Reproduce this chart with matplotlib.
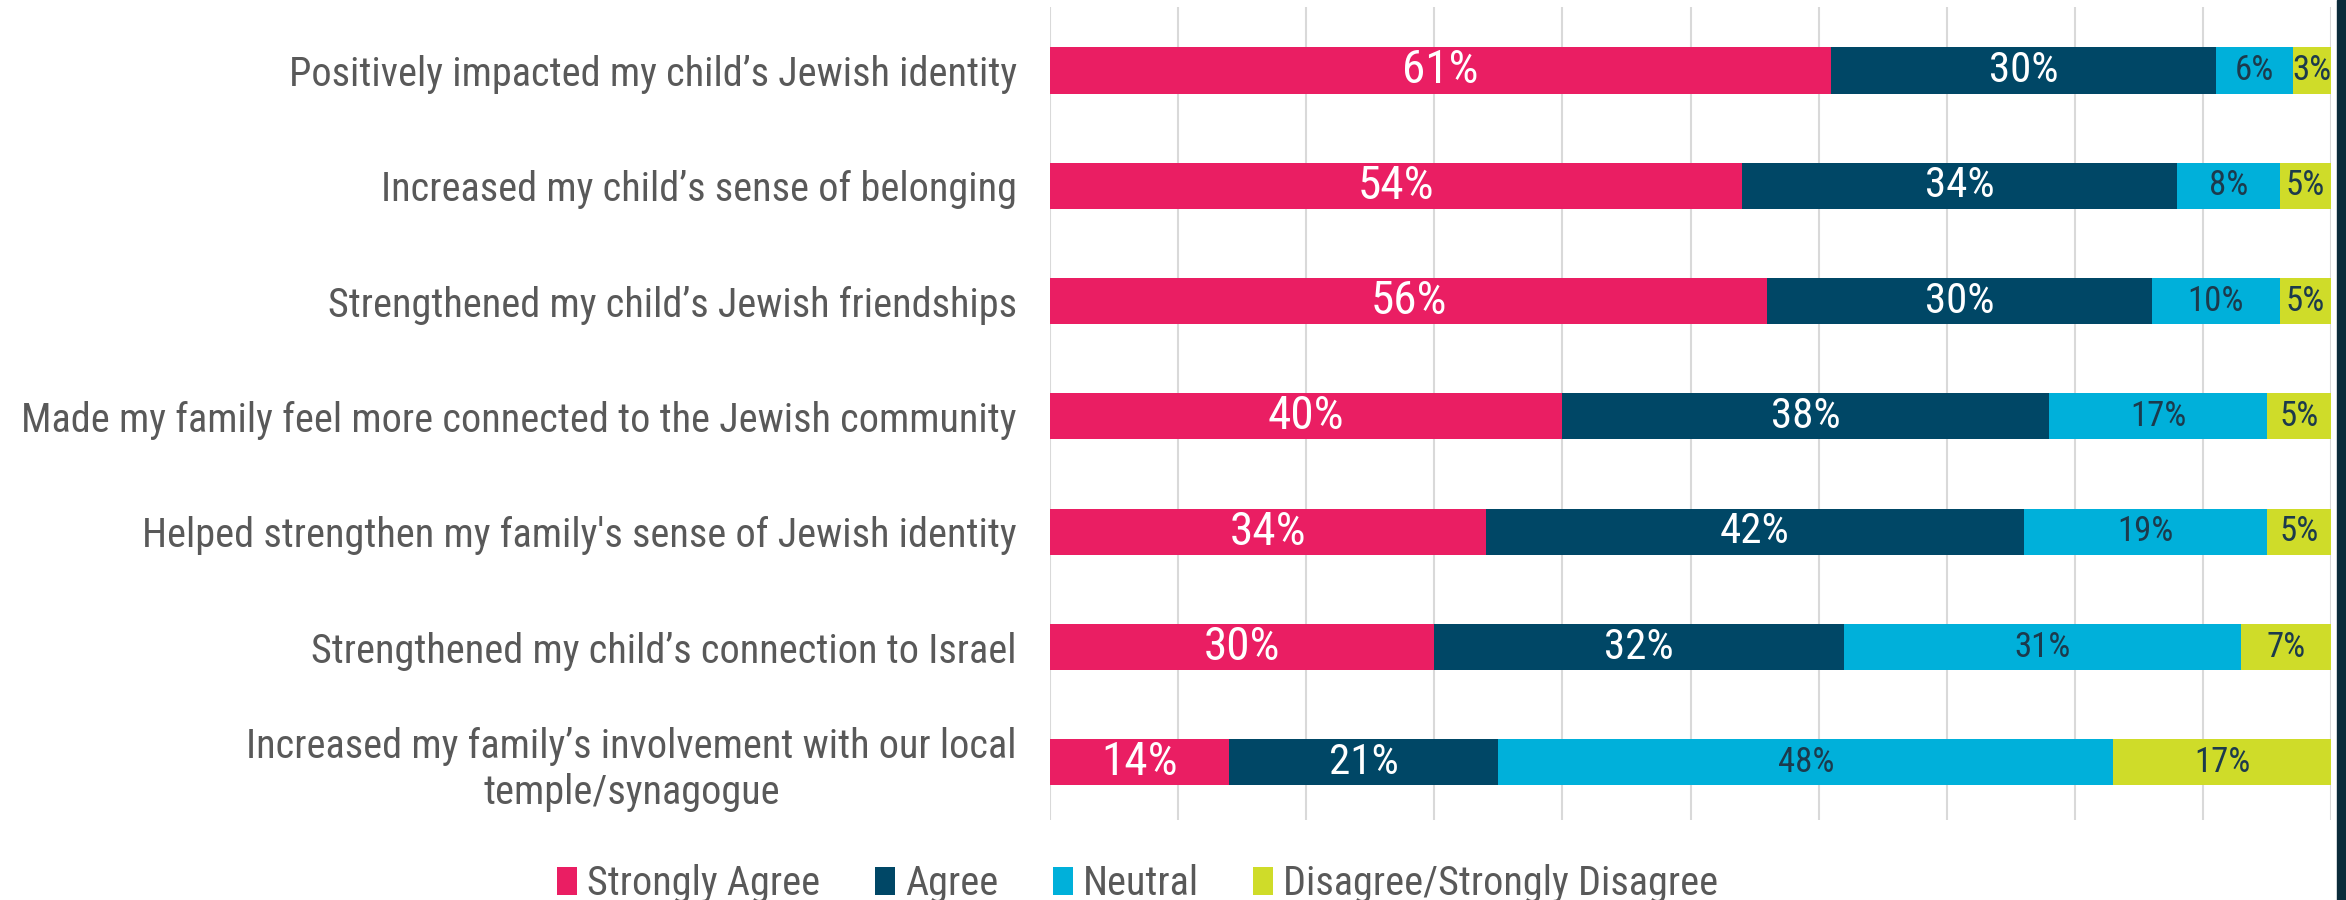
# -*- coding: utf-8 -*-
# --- plot.py : stacked agreement bars ----------------------------------------
import matplotlib
matplotlib.use('Agg')
import matplotlib.pyplot as plt
import matplotlib.patches as mpatches
from matplotlib import font_manager

# --- Data --------------------------------------------------------------------
lCat = ['Positively impacted my child\u2019s Jewish identity',
        'Increased my child\u2019s sense of belonging',
        'Strengthened my child\u2019s Jewish friendships',
        'Made my family feel more connected to the Jewish community',
        'Helped strengthen my family\'s sense of Jewish identity',
        'Strengthened my child\u2019s connection to Israel',
        'Increased my family\u2019s involvement with our local\n'
        'temple/synagogue']
lSer = ['Strongly Agree', 'Agree', 'Neutral', 'Disagree/Strongly Disagree']
strongAgree = [61, 54, 56, 40, 34, 30, 14]
agree = [30, 34, 30, 38, 42, 32, 21]
neutral = [6, 8, 10, 17, 19, 31, 48]
disagree = [3, 5, 5, 5, 5, 7, 17]

# --- Styles ------------------------------------------------------------------
lCol = ['#EA1E63', '#004766', '#00B0DA', '#CFDC29']
lColTxt = ['white', 'white', '#1C3A4C', '#1C3A4C']
lSzTxt = [34, 31, 25, 25]
sNames = set(f.name for f in font_manager.fontManager.ttflist)
lFam = [s for s in ['Liberation Sans Narrow', 'Roboto Condensed',
                    'Liberation Sans'] if s in sNames] + ['DejaVu Sans']
colLbl = '#595959'
plt.rcParams['font.family'] = lFam

# --- Plot --------------------------------------------------------------------
cFig = plt.figure(figsize=(23.46, 9), dpi=100)
cAx = cFig.add_axes([0.4476, 0.0889, 0.546, 0.9033])

lY = list(range(len(lCat)))
lLeft = [0] * len(lCat)
for iS, cSer in enumerate([strongAgree, agree, neutral, disagree]):
    cAx.barh(lY, cSer, left=lLeft, height=0.4, color=lCol[iS],
             label=lSer[iS], zorder=2)
    for iC, cV in enumerate(cSer):
        xMid = lLeft[iC] + cV / 2
        if lLeft[iC] + cV > 100:
            xMid = (lLeft[iC] + 100) / 2
        cAx.text(xMid, iC, '%d%%' % cV, ha='center', va='center',
                 color=lColTxt[iS], fontsize=lSzTxt[iS], zorder=3)
    lLeft = [a + b for a, b in zip(lLeft, cSer)]

cAx.set_xlim(0, 100)
cAx.set_ylim(6.5, -0.55)
cAx.set_xticks(range(0, 101, 10))
cAx.xaxis.grid(True, color='#D9D9D9', lw=1.5, zorder=0)
cAx.set_axisbelow(True)
cAx.tick_params(axis='x', length=0, labelbottom=False)
cAx.tick_params(axis='y', length=0, pad=24)
cAx.set_yticks(lY)
cAx.set_yticklabels(lCat, fontsize=29, color=colLbl,
                    multialignment='center')
for cSp in cAx.spines.values():
    cSp.set_visible(False)

cFig.legend(loc='center', bbox_to_anchor=(0.485, 0.018), ncol=4,
            frameon=False, fontsize=29, labelcolor=colLbl,
            handlelength=0.5, handleheight=0.7, handletextpad=0.25,
            columnspacing=1.35)

# dark border on the right edge
cFig.patches.append(mpatches.Rectangle((0.9962, 0), 0.0038, 1,
                                       transform=cFig.transFigure,
                                       color='#0B2B3A', zorder=5))

plt.savefig('out.png')
plt.close()
